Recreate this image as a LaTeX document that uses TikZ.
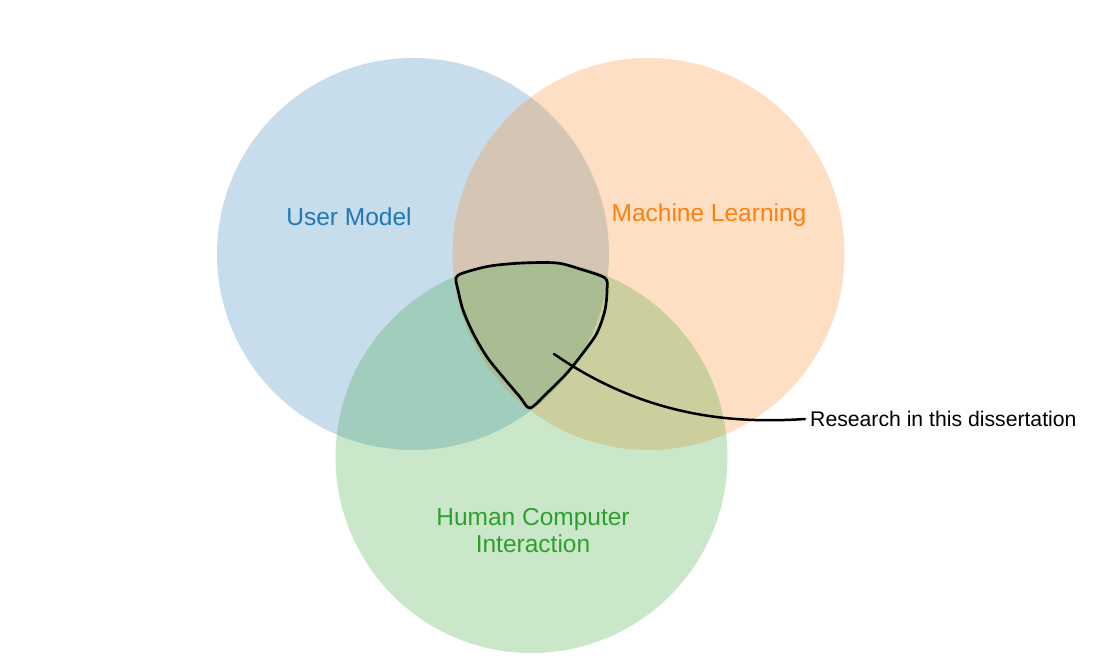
\documentclass[tikz,border=0pt]{standalone}
\usepackage{fontspec}
\setmainfont{Liberation Sans}
\definecolor{umblue}{RGB}{31,119,180}
\definecolor{mlorange}{RGB}{255,127,14}
\definecolor{hcigreen}{RGB}{44,160,44}
\begin{document}
\begin{tikzpicture}[x=1pt,y=-1pt]
      \tikzstyle{venn}=[circle, minimum size=392pt, inner sep=0pt, fill opacity=0.25, draw=none]
      \tikzstyle{vennlabel}=[font=\fontsize{24.5}{27}\selectfont, align=center, inner sep=0pt]
      \useasboundingbox (0,0) rectangle (1096,672);
      \node [venn, fill=umblue] (um) at (413,254) {};
      \node [venn, fill=mlorange] (ml) at (648.5,254) {};
      \node [venn, fill=hcigreen] (hci) at (531.5,457) {};
      \draw (349,217) node [vennlabel, text=umblue] (umlabel) {User Model};
      \draw (709,215) node [vennlabel, text=mlorange] (mllabel) {Machine Learning};
      \draw (533,531) node [vennlabel, text=hcigreen] (hcilabel) {Human Computer\\Interaction};
      \draw [black, line width=2.7pt, line join=round] plot [smooth cycle, tension=0.5] coordinates {
        (456,278) (463,273) (490,266) (523,263) (557,263) (580,269) (605,278)
        (607,290) (605,310) (597,333) (583,353) (567,373) (547,393) (530,408)
        (520,397) (503,377) (487,357) (473,333) (463,310) (458,290)};
      \draw (810,419) node [anchor=west, inner sep=0pt, font=\fontsize{21.2}{24}\selectfont] (research) {Research in this dissertation};
      \coordinate (pointer) at (554,354);
      \draw [black, line width=2.5pt, line cap=round] (pointer) .. controls (644,416) and (730,424) .. ([xshift=-5pt]research.west);
\end{tikzpicture}
\end{document}
